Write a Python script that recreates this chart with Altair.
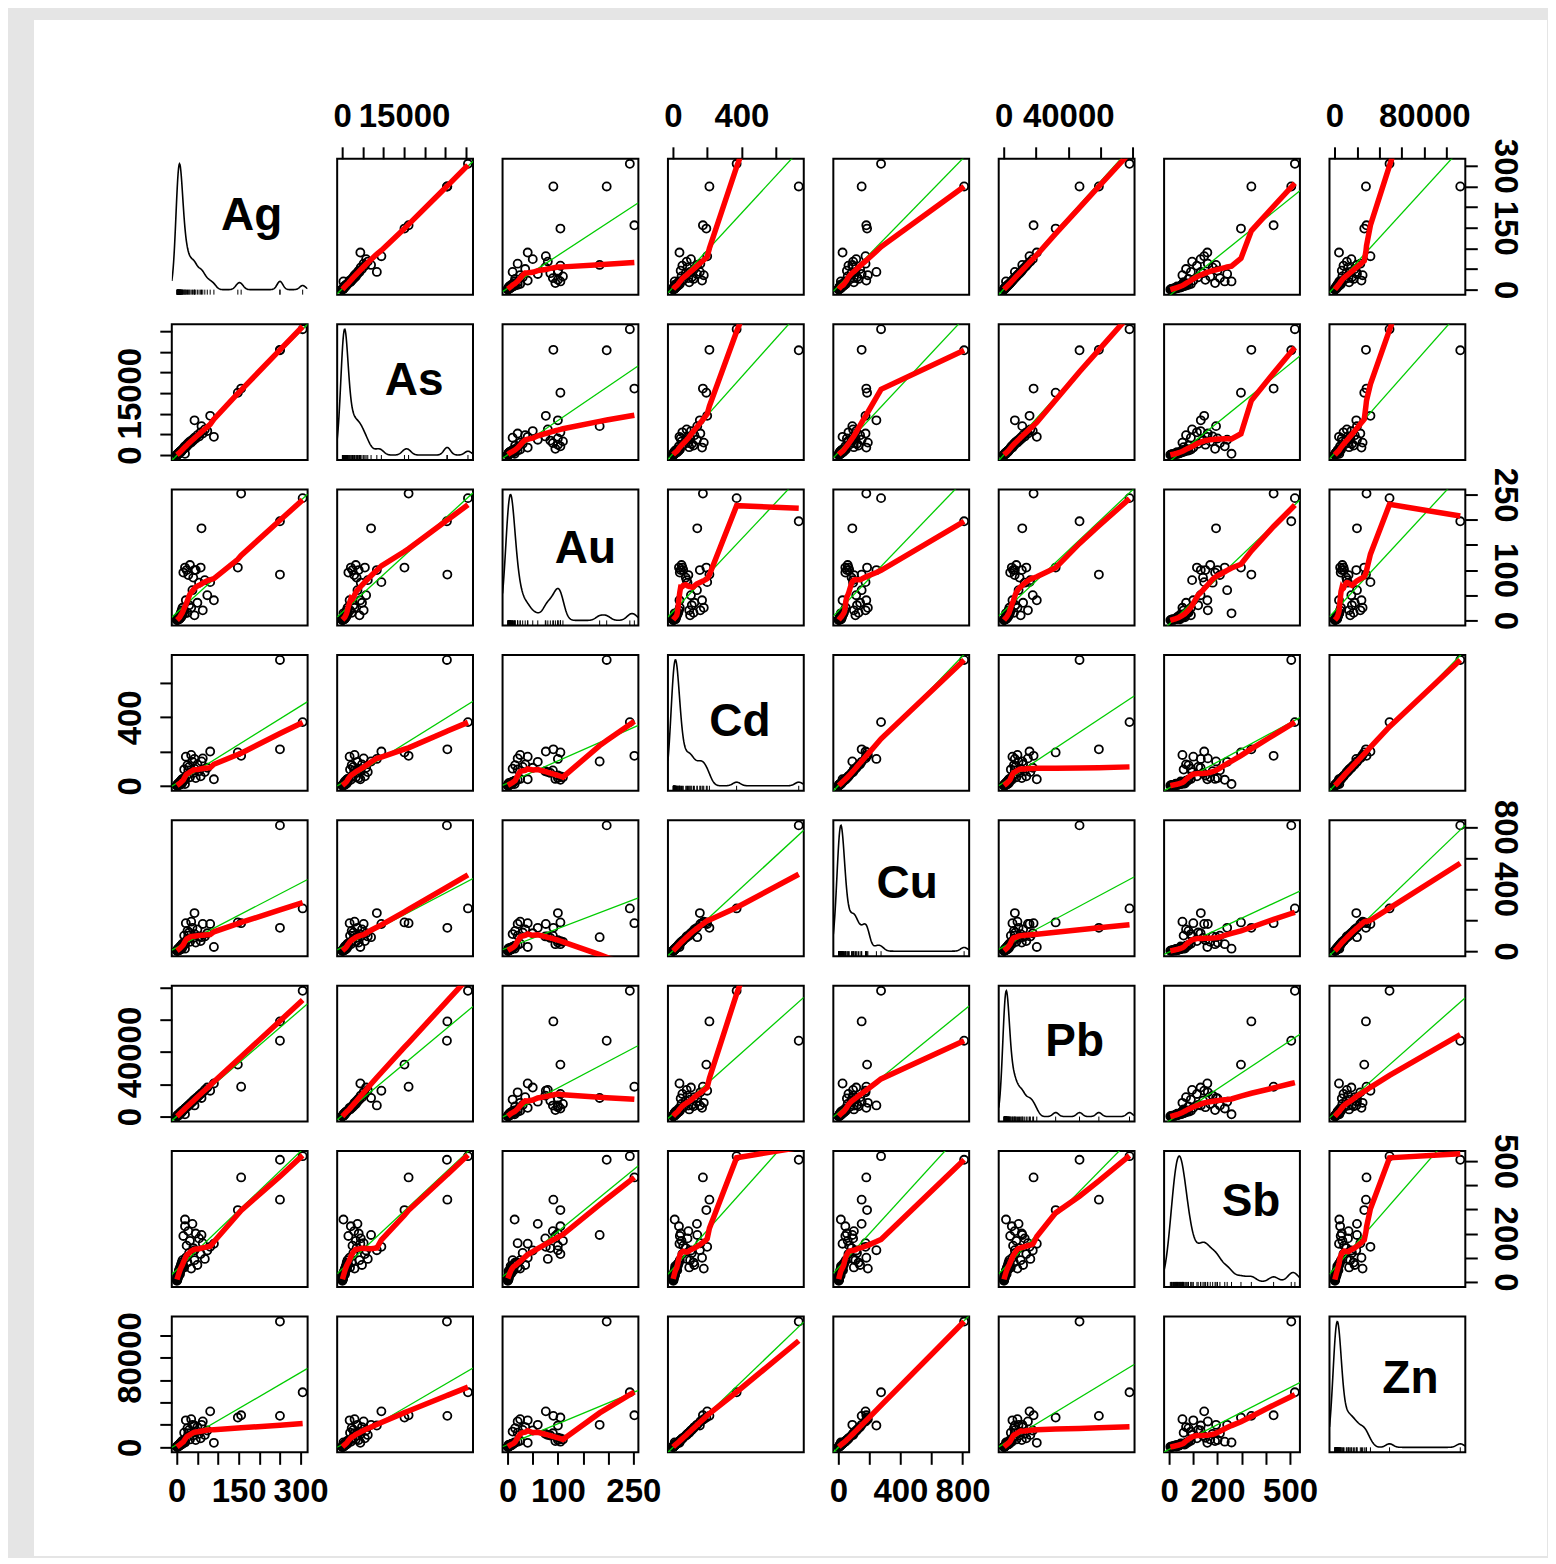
import altair as alt
import pandas as pd

names = ["Ag", "As", "Au", "Cd", "Cu", "Pb", "Sb", "Zn"]

# 34 low samples, 20 mid samples, 10 high / outlying samples
Ag = [0.5, 1, 1, 2, 2, 3, 3, 4, 4, 5, 5, 6, 6, 7, 8, 8, 9, 10, 10, 11, 12, 13, 14, 15,
      1, 2, 3, 4, 5, 6, 7, 8, 9, 12,
      16, 18, 20, 22, 24, 26, 28, 30, 32, 35, 38, 40, 43, 46, 50, 54, 58, 63, 68, 74,
      305, 250, 250, 148, 156, 90, 43, 20, 60, 81]
As = [50, 80, 120, 150, 220, 200, 300, 280, 400, 350, 500, 450, 600, 550, 700, 800, 650,
      900, 1000, 850, 1100, 1200, 1300, 1400,
      60, 180, 250, 320, 380, 520, 600, 700, 750, 1000,
      1500, 1900, 2100, 1800, 2500, 2300, 2900, 2700, 3300, 3000, 3700, 3500, 4200, 4000,
      4800, 4500, 5500, 5200, 6200, 5800,
      30500, 25500, 25400, 15100, 16100, 4400, 8400, 300, 7000, 9500]
Au = [0.5, 1, 2, 1, 3, 2, 4, 5, 3, 6, 2, 8, 5, 4, 10, 7, 12, 6, 15, 9, 20, 11, 25, 14,
      1, 2, 1.5, 3, 2, 4, 3, 6, 5, 8,
      95, 20, 105, 40, 100, 15, 90, 30, 110, 25, 60, 85, 10, 100, 35, 75, 105, 20, 80, 50,
      243, 91, 197, 105, 252, 40, 100, 14, 183, 76]
Cd = [2, 4, 3, 6, 8, 5, 10, 7, 12, 9, 15, 11, 18, 14, 20, 16, 25, 13, 30, 22, 35, 18, 40, 28,
      1, 3, 2, 4, 6, 5, 8, 7, 10, 12,
      40, 95, 35, 170, 60, 120, 90, 110, 50, 180, 140, 75, 100, 45, 125, 85, 55, 160,
      80, 105,
      372, 213, 735, 195, 175, 38, 157, 10, 142, 200]
Cu = [3, 5, 4, 8, 10, 6, 12, 9, 15, 11, 18, 14, 22, 16, 25, 20, 30, 17, 35, 26, 40, 22, 48, 33,
      2, 4, 3, 6, 7, 8, 10, 9, 13, 15,
      45, 100, 45, 180, 70, 130, 100, 120, 60, 190, 150, 85, 110, 55, 140, 95, 65, 175,
      95, 115,
      275, 150, 810, 185, 180, 27, 245, 16, 90, 175]
Pb = [150, 250, 300, 450, 500, 700, 800, 900, 1000, 1200, 1300, 1400, 1600, 1700, 1900,
      2000, 2200, 2500, 2600, 2800, 3000, 3300, 3500, 3800,
      200, 400, 600, 800, 1000, 1100, 1500, 1800, 2100, 2700,
      4000, 4400, 5000, 5400, 5800, 6300, 6800, 7200, 7800, 8500, 9200, 9800, 10500, 11200,
      12000, 13000, 14000, 15000, 16500, 18000,
      78000, 59000, 47000, 32200, 18500, 20500, 6900, 1400, 11500, 16000]
Sb = [5, 10, 15, 20, 25, 18, 30, 35, 28, 40, 45, 38, 50, 42, 55, 60, 48, 65, 70, 52, 80, 58,
      90, 75,
      8, 12, 22, 30, 26, 35, 42, 33, 48, 55,
      190, 60, 230, 100, 150, 80, 210, 120, 170, 55, 240, 140, 90, 200, 70, 180, 115, 160,
      95, 130,
      520, 340, 505, 297, 432, 158, 131, 258, 194, 145]
Zn = [400, 700, 600, 1000, 1200, 900, 1500, 1300, 1800, 1600, 2200, 1900, 2600, 2300, 3000,
      2700, 3500, 2500, 4200, 3200, 5000, 2900, 5800, 4000,
      300, 500, 800, 700, 1100, 1400, 1600, 2000, 2400, 2800,
      5500, 13000, 5000, 24000, 8500, 17000, 12500, 15500, 7000, 25000, 20000, 10500,
      14000, 6500, 18000, 12000, 8000, 23000, 11000, 15000,
      49000, 28000, 112000, 26500, 28500, 4000, 19400, 4300, 20000, 32000]

# axis domains (data range padded 4% like R)
domains = {
    "Ag": [-12, 317], "As": [-1220, 31720], "Au": [-10, 260], "Cd": [-29.4, 764.4],
    "Cu": [-32.4, 842.4], "Pb": [-3120, 81120], "Sb": [-20.8, 540.8], "Zn": [-4480, 116480],
}
tick_values = {
    "Ag": [0, 50, 100, 150, 200, 250, 300],
    "As": [0, 5000, 10000, 15000, 20000, 25000, 30000],
    "Au": [0, 50, 100, 150, 200, 250],
    "Cd": [0, 200, 400, 600],
    "Cu": [0, 200, 400, 600, 800],
    "Pb": [0, 20000, 40000, 60000, 80000],
    "Sb": [0, 100, 200, 300, 400, 500],
    "Zn": [0, 20000, 40000, 60000, 80000, 100000],
}
label_values = {
    "Ag": [0, 150, 300], "As": [0, 15000], "Au": [0, 100, 250], "Cd": [0, 400],
    "Cu": [0, 400, 800], "Pb": [0, 40000], "Sb": [0, 200, 500], "Zn": [0, 80000],
}
# kernel bandwidth of the diagonal density estimates
bandwidths = {"Ag": 7, "As": 800, "Au": 8, "Cd": 22, "Cu": 22, "Pb": 1800,
              "Sb": 20, "Zn": 3300}
# diagonal label placement inside the panel (pixels)
diag_pos = {"Ag": (80, 71), "As": (77, 71), "Au": (83, 74), "Cd": (72, 81),
            "Cu": (74, 78), "Pb": (76, 70), "Sb": (87, 65), "Zn": (81, 77)}

df = pd.DataFrame({"Ag": Ag, "As": As, "Au": Au, "Cd": Cd, "Cu": Cu,
                   "Pb": Pb, "Sb": Sb, "Zn": Zn})

FONT = "Liberation Sans"
W = 136
GREEN = "#00cc00"


def make_axis(v, orient):
    labs = label_values[v]
    kw = dict(orient=orient, values=tick_values[v], format="d",
              labelExpr="indexof(%s, datum.value) >= 0 ? datum.label : ''" % labs,
              domain=False, grid=False, tickSize=12, tickWidth=2, tickColor="black",
              labelFont=FONT, labelFontSize=33, labelFontWeight="bold",
              labelColor="black", labelOverlap=False, labelFlush=False,
              labelBound=False, title=None)
    if orient == "top":
        kw.update(labelPadding=13, labelAngle=0, labelAlign="center", labelBaseline="bottom")
    elif orient == "bottom":
        kw.update(labelPadding=11, labelAngle=0, labelAlign="center", labelBaseline="top")
    elif orient == "left":
        kw.update(labelPadding=12, labelAngle=270, labelAlign="center", labelBaseline="bottom")
    else:
        kw.update(labelPadding=10, labelAngle=90, labelAlign="center", labelBaseline="bottom")
    return alt.Axis(**kw)


panels = []
for r, yv in enumerate(names):
    for c, xv in enumerate(names):
        xaxis = None
        if r == 0 and c % 2 == 1:
            xaxis = make_axis(xv, "top")
        elif r == 7 and c % 2 == 0:
            xaxis = make_axis(xv, "bottom")
        yaxis = None
        if c == 0 and r % 2 == 1:
            yaxis = make_axis(yv, "left")
        elif c == 7 and r % 2 == 0:
            yaxis = make_axis(yv, "right")

        X = alt.X(f"{xv}:Q", scale=alt.Scale(domain=domains[xv], nice=False, zero=False),
                  axis=xaxis)
        layers = []
        if r == 0 and c == 0:
            bg = alt.Chart(pd.DataFrame({"z": [0]})).mark_rect(color="white").encode(
                x=alt.value(-138), x2=alt.value(1377), y=alt.value(-139), y2=alt.value(1399))
            layers.append(bg)
        if r == c:
            dens = alt.Chart(df).transform_density(
                xv, as_=[xv, "density"], extent=domains[xv], steps=300,
                bandwidth=bandwidths[xv]
            ).mark_line(color="black", strokeWidth=1.6, clip=True).encode(
                x=X,
                y=alt.Y("density:Q", scale=alt.Scale(zero=True, nice=False, padding=5), axis=None))
            rug = alt.Chart(df).mark_rule(color="black", strokeWidth=1).encode(
                x=X, y=alt.value(W - 5), y2=alt.value(W))
            px, py = diag_pos[xv]
            lab = alt.Chart(pd.DataFrame({"t": [xv]})).mark_text(
                font=FONT, fontSize=46, fontWeight="bold", align="center",
                baseline="alphabetic", color="black").encode(
                x=alt.value(px), y=alt.value(py), text="t:N")
            layers += [dens, rug, lab]
        else:
            Y = alt.Y(f"{yv}:Q", scale=alt.Scale(domain=domains[yv], nice=False, zero=False),
                      axis=yaxis)
            base = alt.Chart(df)
            pts = base.mark_point(shape="circle", filled=False, color="black", size=65,
                                  strokeWidth=1.8, opacity=1, clip=True).encode(x=X, y=Y)
            reg = base.transform_regression(
                on=xv, regression=yv, method="linear", extent=domains[xv]
            ).mark_line(color=GREEN, strokeWidth=1.3, clip=True).encode(x=X, y=Y)
            lo = base.transform_loess(on=xv, loess=yv, bandwidth=0.5).mark_line(
                color="red", strokeWidth=5.5, clip=True).encode(x=X, y=Y)
            layers += [pts, reg, lo]
        panels.append(alt.layer(*layers).properties(width=W, height=W))

chart = alt.concat(*panels, columns=8, spacing=29.6, bounds="flush").properties(
    padding={"left": 25, "top": 10, "right": 0, "bottom": 0}
).configure(background="#e5e5e5").configure_view(stroke="black", strokeWidth=2)

chart.save("out.html", embed_options={"renderer": "svg", "actions": False})
